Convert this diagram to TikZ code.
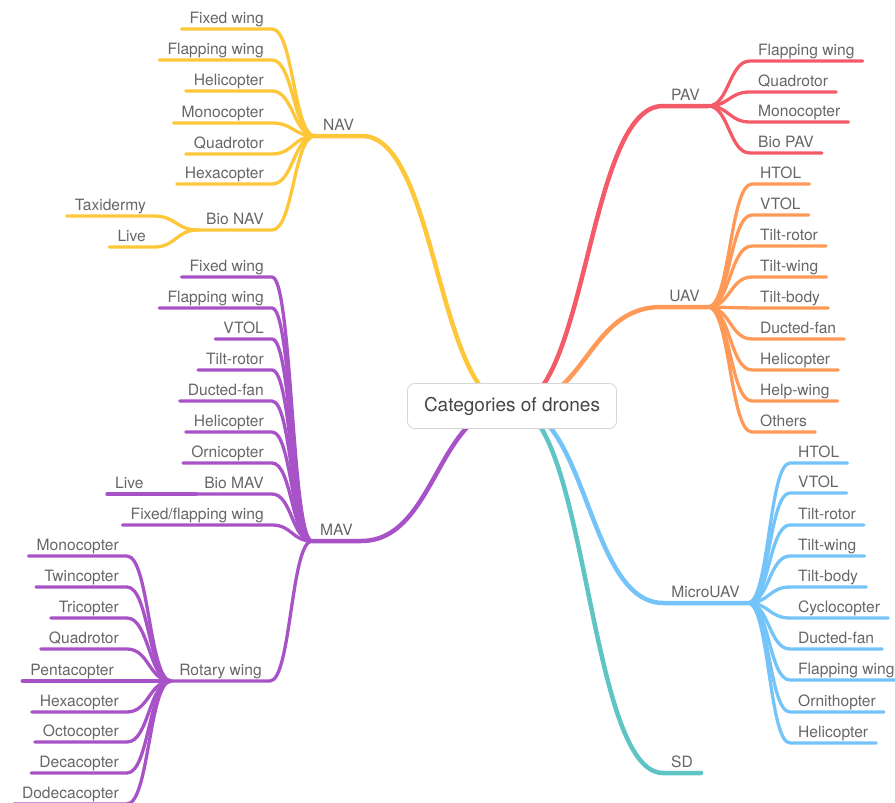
\documentclass[tikz,border=0pt]{standalone}
\usepackage{fontspec}
\setmainfont{TeX Gyre Heros}
\usepackage{xcolor}
\usetikzlibrary{calc}
\definecolor{navc}{RGB}{253,199,57}
\definecolor{pavc}{RGB}{243,91,104}
\definecolor{uavc}{RGB}{255,153,88}
\definecolor{mavc}{RGB}{167,82,199}
\definecolor{microc}{RGB}{116,196,250}
\definecolor{sdc}{RGB}{95,196,196}
\definecolor{lblgray}{RGB}{102,102,102}
\definecolor{hubgray}{RGB}{70,70,70}
\definecolor{rimgray}{RGB}{214,214,214}

\begin{document}
\begin{tikzpicture}[line cap=round,line join=round,x=1pt,y=-1pt,
  lbl/.style={font=\fontsize{15.6}{18}\selectfont,text=lblgray,inner xsep=8pt,inner ysep=5pt,text depth=0pt},
  lft/.style={lbl,anchor=south east},
  rgt/.style={lbl,anchor=south west},
  sway/.style={to path={let \p1=(\tikztostart),\p2=(\tikztotarget) in
    .. controls ({0.5*\x1+0.5*\x2},\y1) and ({0.5*\x1+0.5*\x2},\y2) .. (\tikztotarget)}},
  trunk/.style={line width=4.5pt},
  twig/.style={line width=3.3pt},
  hubbox/.style={draw=rimgray,fill=white,line width=0.8pt,rounded corners=7pt,
    minimum width=209pt,minimum height=45pt,font=\fontsize{19}{22}\selectfont,text=hubgray}]
\useasboundingbox (0,0) rectangle (895,803);
\coordinate (hub) at (512,406);
% first level
\node[rgt] (nav) at (315,136) {NAV};
\node[lft] (pav) at (708,106) {PAV};
\node[lft] (uav) at (708,307) {UAV};
\node[rgt] (mav) at (312,541) {MAV};
\node[lft] (micro) at (748,603) {MicroUAV};
\node[rgt] (sd) at (663,773) {SD};
% NAV
\node[lft] (nfw) at (272,29) {Fixed wing};
\node[lft] (nflw) at (272,60) {Flapping wing};
\node[lft] (nheli) at (272,91) {Helicopter};
\node[lft] (nmono) at (272,123) {Monocopter};
\node[lft] (nquad) at (272,154) {Quadrotor};
\node[lft] (nhexa) at (272,184) {Hexacopter};
\node[lft] (nbio) at (272,230) {Bio NAV};
\node[lft] (ntaxi) at (154,216) {Taxidermy};
\node[lft] (nlive) at (154,247) {Live};
% PAV
\node[rgt] (pflw) at (750,61) {Flapping wing};
\node[rgt] (pquad) at (750,92) {Quadrotor};
\node[rgt] (pmono) at (750,122) {Monocopter};
\node[rgt] (pbio) at (750,153) {Bio PAV};
% UAV
\node[rgt] (uhtol) at (752,184) {HTOL};
\node[rgt] (uvtol) at (752,215) {VTOL};
\node[rgt] (urotor) at (752,246) {Tilt-rotor};
\node[rgt] (uwing) at (752,277) {Tilt-wing};
\node[rgt] (ubody) at (752,308) {Tilt-body};
\node[rgt] (ufan) at (752,339) {Ducted-fan};
\node[rgt] (uheli) at (752,370) {Helicopter};
\node[rgt] (uhelp) at (752,401) {Help-wing};
\node[rgt] (uother) at (752,432) {Others};
% MicroUAV
\node[rgt] (chtol) at (790,463) {HTOL};
\node[rgt] (cvtol) at (790,493) {VTOL};
\node[rgt] (crotor) at (790,525) {Tilt-rotor};
\node[rgt] (cwing) at (790,556) {Tilt-wing};
\node[rgt] (cbody) at (790,587) {Tilt-body};
\node[rgt] (ccyclo) at (790,618) {Cyclocopter};
\node[rgt] (cfan) at (790,649) {Ducted-fan};
\node[rgt] (cflw) at (790,680) {Flapping wing};
\node[rgt] (cornith) at (790,712) {Ornithopter};
\node[rgt] (cheli) at (790,743) {Helicopter};
% MAV
\node[lft] (mfw) at (272,277) {Fixed wing};
\node[lft] (mflw) at (272,308) {Flapping wing};
\node[lft] (mvtol) at (272,339) {VTOL};
\node[lft] (mrotor) at (272,370) {Tilt-rotor};
\node[lft] (mfan) at (272,401) {Ducted-fan};
\node[lft] (mheli) at (272,432) {Helicopter};
\node[lft] (morni) at (272,463) {Ornicopter};
\node[lft] (mbio) at (272,494) {Bio MAV};
\node[rgt] (mlive) at (107,494) {Live};
\node[lft] (mfix) at (272,525) {Fixed/flapping wing};
\node[lft] (mrot) at (270,681) {Rotary wing};
% Rotary wing
\node[lft] (rmono) at (127,556) {Monocopter};
\node[lft] (rtwin) at (127,587) {Twincopter};
\node[lft] (rtri) at (127,618) {Tricopter};
\node[lft] (rquad) at (127,649) {Quadrotor};
\node[lft] (rpenta) at (122,681) {Pentacopter};
\node[lft] (rhexa) at (127,712) {Hexacopter};
\node[lft] (rocto) at (127,742) {Octocopter};
\node[lft] (rdeca) at (127,773) {Decacopter};
\node[lft] (rdodeca) at (127,804) {Dodecacopter};
% branches from the hub
\draw[trunk,navc] (hub) to[sway] (nav.south east) -- (nav.south west);
\draw[trunk,pavc] (hub) to[sway] (pav.south west) -- (pav.south east);
\draw[trunk,uavc] (hub) to[sway] (uav.south west) -- (uav.south east);
\draw[trunk,mavc] (hub) to[sway] (mav.south east) -- (mav.south west);
\draw[trunk,microc] (hub) to[sway] (micro.south west) -- (micro.south east);
\draw[trunk,sdc] (hub) to[sway] (sd.south west) -- (sd.south east);
% NAV
\draw[twig,navc] (nav.south west) to[sway] (nfw.south east) -- (nfw.south west);
\draw[twig,navc] (nav.south west) to[sway] (nflw.south east) -- (nflw.south west);
\draw[twig,navc] (nav.south west) to[sway] (nheli.south east) -- (nheli.south west);
\draw[twig,navc] (nav.south west) to[sway] (nmono.south east) -- (nmono.south west);
\draw[twig,navc] (nav.south west) to[sway] (nquad.south east) -- (nquad.south west);
\draw[twig,navc] (nav.south west) to[sway] (nhexa.south east) -- (nhexa.south west);
\draw[twig,navc] (nav.south west) to[sway] (nbio.south east) -- (nbio.south west);
\draw[twig,navc] (nbio.south west) to[sway] (ntaxi.south east) -- (ntaxi.south west);
\draw[twig,navc] (nbio.south west) to[sway] (nlive.south east) -- (nlive.south west);
% PAV
\draw[twig,pavc] (pav.south east) to[sway] (pflw.south west) -- (pflw.south east);
\draw[twig,pavc] (pav.south east) to[sway] (pquad.south west) -- (pquad.south east);
\draw[twig,pavc] (pav.south east) to[sway] (pmono.south west) -- (pmono.south east);
\draw[twig,pavc] (pav.south east) to[sway] (pbio.south west) -- (pbio.south east);
% UAV
\draw[twig,uavc] (uav.south east) to[sway] (uhtol.south west) -- (uhtol.south east);
\draw[twig,uavc] (uav.south east) to[sway] (uvtol.south west) -- (uvtol.south east);
\draw[twig,uavc] (uav.south east) to[sway] (urotor.south west) -- (urotor.south east);
\draw[twig,uavc] (uav.south east) to[sway] (uwing.south west) -- (uwing.south east);
\draw[twig,uavc] (uav.south east) to[sway] (ubody.south west) -- (ubody.south east);
\draw[twig,uavc] (uav.south east) to[sway] (ufan.south west) -- (ufan.south east);
\draw[twig,uavc] (uav.south east) to[sway] (uheli.south west) -- (uheli.south east);
\draw[twig,uavc] (uav.south east) to[sway] (uhelp.south west) -- (uhelp.south east);
\draw[twig,uavc] (uav.south east) to[sway] (uother.south west) -- (uother.south east);
% MicroUAV
\draw[twig,microc] (micro.south east) to[sway] (chtol.south west) -- (chtol.south east);
\draw[twig,microc] (micro.south east) to[sway] (cvtol.south west) -- (cvtol.south east);
\draw[twig,microc] (micro.south east) to[sway] (crotor.south west) -- (crotor.south east);
\draw[twig,microc] (micro.south east) to[sway] (cwing.south west) -- (cwing.south east);
\draw[twig,microc] (micro.south east) to[sway] (cbody.south west) -- (cbody.south east);
\draw[twig,microc] (micro.south east) to[sway] (ccyclo.south west) -- (ccyclo.south east);
\draw[twig,microc] (micro.south east) to[sway] (cfan.south west) -- (cfan.south east);
\draw[twig,microc] (micro.south east) to[sway] (cflw.south west) -- (cflw.south east);
\draw[twig,microc] (micro.south east) to[sway] (cornith.south west) -- (cornith.south east);
\draw[twig,microc] (micro.south east) to[sway] (cheli.south west) -- (cheli.south east);
% MAV
\draw[twig,mavc] (mav.south west) to[sway] (mfw.south east) -- (mfw.south west);
\draw[twig,mavc] (mav.south west) to[sway] (mflw.south east) -- (mflw.south west);
\draw[twig,mavc] (mav.south west) to[sway] (mvtol.south east) -- (mvtol.south west);
\draw[twig,mavc] (mav.south west) to[sway] (mrotor.south east) -- (mrotor.south west);
\draw[twig,mavc] (mav.south west) to[sway] (mfan.south east) -- (mfan.south west);
\draw[twig,mavc] (mav.south west) to[sway] (mheli.south east) -- (mheli.south west);
\draw[twig,mavc] (mav.south west) to[sway] (morni.south east) -- (morni.south west);
\draw[twig,mavc] (mav.south west) to[sway] (mbio.south east) -- (mbio.south west);
\draw[twig,mavc] (mbio.south west) -- (mlive.south east) -- (mlive.south west);
\draw[twig,mavc] (mav.south west) to[sway] (mfix.south east) -- (mfix.south west);
\draw[twig,mavc] (mav.south west) to[sway] (mrot.south east) -- (mrot.south west);
% Rotary wing
\draw[twig,mavc] (mrot.south west) to[sway] (rmono.south east) -- (rmono.south west);
\draw[twig,mavc] (mrot.south west) to[sway] (rtwin.south east) -- (rtwin.south west);
\draw[twig,mavc] (mrot.south west) to[sway] (rtri.south east) -- (rtri.south west);
\draw[twig,mavc] (mrot.south west) to[sway] (rquad.south east) -- (rquad.south west);
\draw[twig,mavc] (mrot.south west) -- (rpenta.south east) -- (rpenta.south west);
\draw[twig,mavc] (mrot.south west) to[sway] (rhexa.south east) -- (rhexa.south west);
\draw[twig,mavc] (mrot.south west) to[sway] (rocto.south east) -- (rocto.south west);
\draw[twig,mavc] (mrot.south west) to[sway] (rdeca.south east) -- (rdeca.south west);
\draw[twig,mavc] (mrot.south west) to[sway] (rdodeca.south east) -- (rdodeca.south west);
% centre
\node[hubbox] (root) at (hub) {Categories of drones};
\end{tikzpicture}
\end{document}
